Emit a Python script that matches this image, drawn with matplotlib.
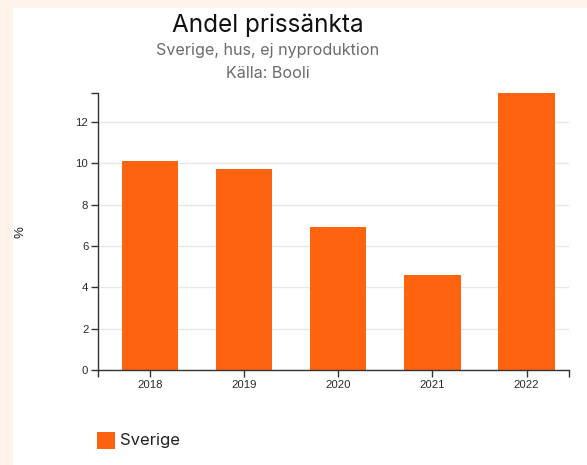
import matplotlib

matplotlib.use("Agg")
import matplotlib.pyplot as plt
from matplotlib.patches import Rectangle

years = ["2018", "2019", "2020", "2021", "2022"]
share_reduced = [10.1, 9.7, 6.9, 4.6, 13.4]
y_ticks = [0, 2, 4, 6, 8, 10, 12]

title = "Andel prissänkta"
subtitle = "Sverige, hus, ej nyproduktion"
source = "Källa: Booli"
series_name = "Sverige"

BAR_COLOR = "#fe6310"
AXIS_COLOR = "#333333"
GRID_COLOR = "#e8e8e8"
FRAME_COLOR = "#fef3ea"

W, H = 587, 465
fig = plt.figure(figsize=(W / 100, H / 100), dpi=100)
fig.patch.set_facecolor("white")

# cream frame strips on the left and top edges
fig.patches.append(Rectangle((0, 0), 13 / W, 1, transform=fig.transFigure,
                             facecolor=FRAME_COLOR, edgecolor="none", zorder=0))
fig.patches.append(Rectangle((0, 1 - 8 / H), 1, 8 / H, transform=fig.transFigure,
                             facecolor=FRAME_COLOR, edgecolor="none", zorder=0))

left, right, bottom, top = 98 / W, 569 / W, 1 - 370 / H, 1 - 93 / H
ax = fig.add_axes([left, bottom, right - left, top - bottom])

x = list(range(len(years)))
ax.bar(x, share_reduced, width=0.6, color=BAR_COLOR, zorder=2)

ymax = max(share_reduced)
ax.set_ylim(0, ymax)
ax.set_xlim(-0.55, len(years) - 0.55)

ax.set_yticks(y_ticks)
ax.set_yticklabels([str(t) for t in y_ticks])
ax.set_xticks(x)
ax.set_xticklabels(years)
# outer end ticks, d3 style
ax.set_yticks([ymax], minor=True)
ax.set_xticks(ax.get_xlim(), minor=True)

ax.grid(axis="y", color=GRID_COLOR, linewidth=1, zorder=0)
ax.set_axisbelow(True)

for side in ("top", "right"):
    ax.spines[side].set_visible(False)
for side in ("left", "bottom"):
    ax.spines[side].set_color(AXIS_COLOR)
    ax.spines[side].set_linewidth(1)

ax.tick_params(which="both", length=5, width=1, color=AXIS_COLOR,
               labelsize=8.2, labelcolor="#2a2a2a", pad=2)
for lab in ax.get_xticklabels() + ax.get_yticklabels():
    lab.set_fontfamily("Liberation Sans")

fig.text(21 / W, 1 - 232 / H, "%", rotation=90, ha="center", va="center",
         fontsize=9.5, color="#222222", family="Liberation Sans")

cx = 268 / W
fig.text(cx, 1 - 25 / H, title, ha="center", va="center",
         fontsize=17.5, color="#111111", family="Inter")
fig.text(cx, 1 - 51 / H, subtitle, ha="center", va="center",
         fontsize=11.6, color="#6b6b6b", family="Inter")
fig.text(cx, 1 - 73 / H, source, ha="center", va="center",
         fontsize=11.6, color="#6b6b6b", family="Inter")

# legend
fig.patches.append(Rectangle((97 / W, 1 - 449 / H), 18 / W, 17 / H,
                             transform=fig.transFigure, facecolor=BAR_COLOR,
                             edgecolor="none"))
fig.text(120 / W, 1 - 440 / H, series_name, ha="left", va="center",
         fontsize=12, color="#222222", family="Inter")

fig.savefig("out.png", dpi=100)
